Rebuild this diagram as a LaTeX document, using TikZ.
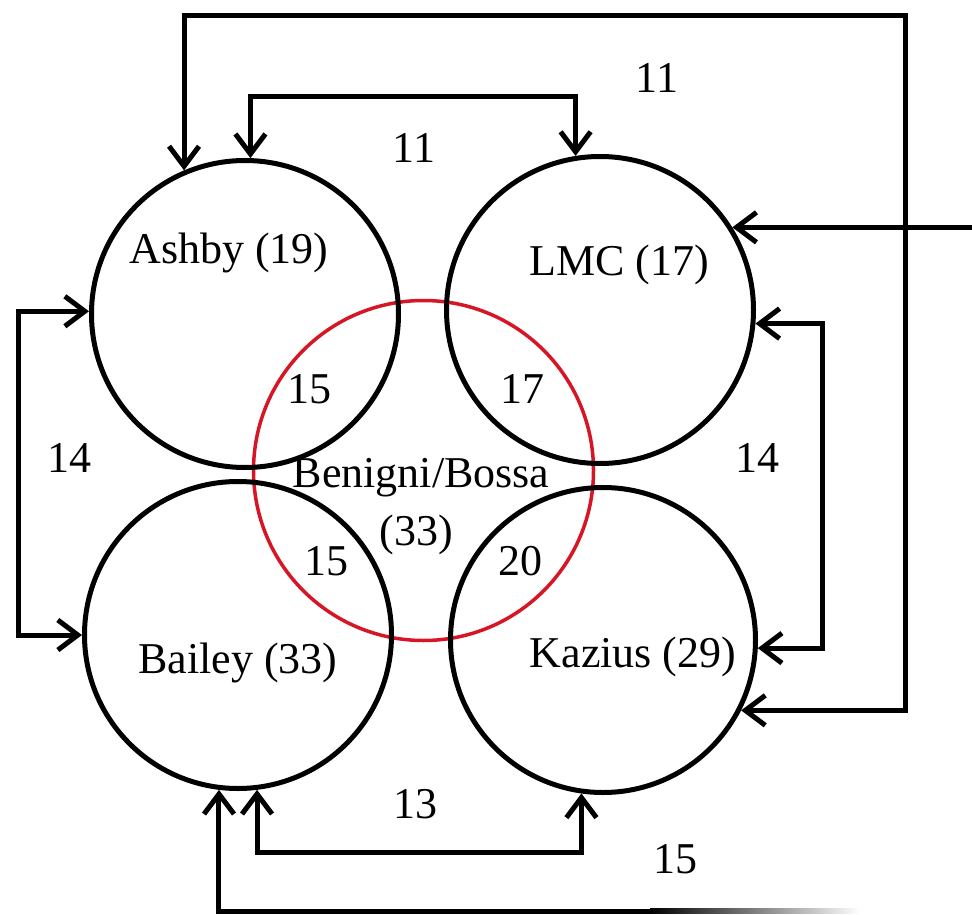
\documentclass[tikz,border=0pt]{standalone}
\usepackage{fontspec}
\setmainfont{Liberation Serif}
\usetikzlibrary{arrows.meta}
\definecolor{ringred}{RGB}{214,22,36}
\begin{document}
\begin{tikzpicture}[x=1pt,y=-1pt,
  >={Straight Barb[length=20pt,width=30pt]},
  setring/.style={circle, draw=black, line width=5pt, minimum size=307pt,
    inner sep=0pt, outer sep=2.5pt},
  conn/.style={line width=5pt},
  lbl/.style={font=\fontsize{44pt}{52pt}\selectfont, inner sep=0pt, anchor=base}]
\useasboundingbox (0,0) rectangle (972,915);

% central set
\node[circle, draw=ringred, line width=3.5pt, minimum size=340pt, inner sep=0pt]
  (bb) at (423.5,470.5) {};

% the four surrounding sets
\node[setring] (ashby)  at (245,314) {};
\node[setring] (lmc)    at (600,310) {};
\node[setring] (bailey) at (238,635) {};
\node[setring, minimum size=305pt] (kazius) at (603,640) {};

% bend points of the connectors
\coordinate (outerTop) at (905,16);
\coordinate (innerTop) at (412,97);
\coordinate (rightBar) at (822,480);
\coordinate (leftBar)  at (18,470);
\coordinate (innerBot) at (420,852);
\coordinate (outerBot) at (650,911);
\coordinate (edgeIn)   at (972,0);

% connectors
\draw[conn,<->] (kazius.-27) -| (outerTop) -| (ashby.113.4);
\draw[conn,<->] (ashby.88.5) |- (innerTop) -| (lmc.99.2);
\draw[conn,->] (lmc.32 -| edgeIn) -- (lmc.32);
\draw[conn,<->] (lmc.-5.5) -| (rightBar) |- (kazius.-3);
\draw[conn,<->] (ashby.179.3) -| (leftBar) |- (bailey.180);
\draw[conn,<->] (bailey.277.7) |- (innerBot) -| (kazius.262.6);
\draw[conn,->] (outerBot) -| (bailey.263.4);
\shade[left color=black, right color=white] (650,908.5) rectangle (860,913.5);

% set names
\node[lbl] (ashbyName)  at (229,263) {Ashby (19)};
\node[lbl] (lmcName)    at (619,275) {LMC (17)};
\node[lbl] (baileyName) at (238,673) {Bailey (33)};
\node[lbl] (kaziusName) at (633,667) {Kazius (29)};
\node[lbl] (bbName)     at (421,487) {Benigni/Bossa};
\node[lbl] (bbCount)    at (416,545) {(33)};

% overlaps with the central set
\node[lbl] (ovAshby)  at (309,403) {15};
\node[lbl] (ovLmc)    at (522,403) {17};
\node[lbl] (ovBailey) at (326,575) {15};
\node[lbl] (ovKazius) at (520,575) {20};

% connector weights
\node[lbl] (wOuterTop) at (657,93)  {11};
\node[lbl] (wInnerTop) at (414,162) {11};
\node[lbl] (wLeft)     at (69,472)  {14};
\node[lbl] (wRight)    at (757,472) {14};
\node[lbl] (wInnerBot) at (415,818) {13};
\node[lbl] (wOuterBot) at (675,873) {15};
\end{tikzpicture}
\end{document}
